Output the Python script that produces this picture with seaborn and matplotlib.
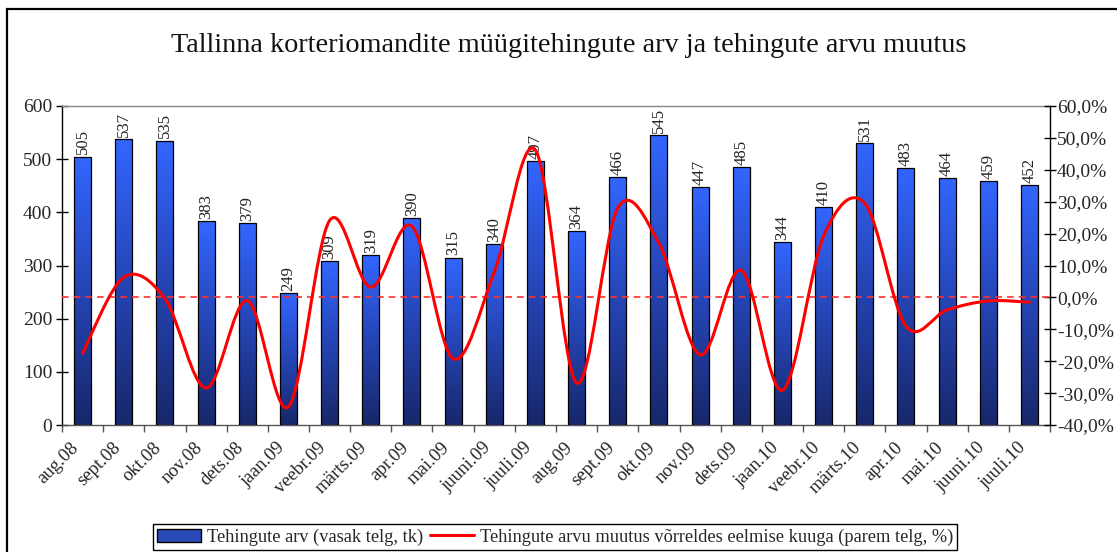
import numpy as np
import pandas as pd
import matplotlib
matplotlib.use("Agg")
import matplotlib.pyplot as plt
import seaborn as sns
from matplotlib.path import Path
from matplotlib.patches import PathPatch, Patch, Rectangle
from matplotlib.lines import Line2D
from matplotlib.ticker import FuncFormatter, FixedLocator
from matplotlib.colors import LinearSegmentedColormap

months = ["aug.08", "sept.08", "okt.08", "nov.08", "dets.08", "jaan.09", "veebr.09",
          "märts.09", "apr.09", "mai.09", "juuni.09", "juuli.09", "aug.09", "sept.09",
          "okt.09", "nov.09", "dets.09", "jaan.10", "veebr.10", "märts.10", "apr.10",
          "mai.10", "juuni.10", "juuli.10"]
counts = [505, 537, 535, 383, 379, 249, 309, 319, 390, 315, 340, 497, 364, 466,
          545, 447, 485, 344, 410, 531, 483, 464, 459, 452]
change_pct = [-17.5, 6.3, -0.4, -28.4, -1.0, -34.3, 24.1, 3.2, 22.3, -19.2, 7.9,
              46.2, -26.8, 28.0, 17.0, -18.0, 8.5, -29.1, 19.2, 29.5, -9.0, -3.9,
              -1.1, -1.5]
title = "Tallinna korteriomandite müügitehingute arv ja tehingute arvu muutus"
bar_label = "Tehingute arv (vasak telg, tk)"
line_label = "Tehingute arvu muutus võrreldes eelmise kuuga (parem telg, %)"

sns.set_theme(style="white")
plt.rcParams["font.family"] = ["Liberation Serif", "DejaVu Serif"]

W, H = 1117, 552
fig = plt.figure(figsize=(W / 100, H / 100), dpi=100)
ax = fig.add_axes([62 / W, 1 - 425 / H, (1050 - 62) / W, (425 - 106) / H])

df = pd.DataFrame({"month": months, "count": counts})
sns.barplot(data=df, x="month", y="count", ax=ax, width=0.41, color="#2a4ab8",
            edgecolor="black", linewidth=0.9, saturation=1)

# gradient fill for each bar
cmap = LinearSegmentedColormap.from_list("g", ["#17276a", "#2545b5", "#3366ff"])
grad = np.linspace(0, 1, 256).reshape(-1, 1)
for p in ax.patches:
    x0, y0 = p.get_x(), p.get_y()
    w, h = p.get_width(), p.get_height()
    im = ax.imshow(grad, cmap=cmap, origin="lower", aspect="auto",
                   extent=[x0, x0 + w, y0, y0 + h], zorder=2)
    im.set_clip_path(p)
    p.set_facecolor("none")
    p.set_zorder(3)

ax.set_xlim(-0.5, len(months) - 0.5)
ax.set_ylim(0, 600)
ax.set_yticks(range(0, 601, 100))
ax.set_xlabel("")
ax.set_ylabel("")

# bar value labels
for i, v in enumerate(counts):
    ax.annotate(str(v), (i, v), xytext=(0, 1.5), textcoords="offset points",
                rotation=90, ha="center", va="bottom", fontsize=12, color="#222222",
                zorder=4)

# x ticks: boundaries as major ticks, labels at centres
ax.xaxis.set_major_locator(FixedLocator(np.arange(-0.5, len(months), 1.0)))
ax.xaxis.set_minor_locator(FixedLocator(np.arange(len(months))))
ax.set_xticklabels([], minor=False)
ax.set_xticklabels(months, minor=True, rotation=45, ha="right", va="top",
                   rotation_mode="default", fontsize=13.5)
ax.tick_params(axis="x", which="major", direction="out", length=5, width=1,
               color="#555555", bottom=True)
ax.tick_params(axis="x", which="minor", length=0, pad=10)
ax.tick_params(axis="y", direction="inout", length=8, width=1, color="black",
               labelsize=14, left=True, pad=3)

ax.spines["left"].set_color("black")
ax.spines["bottom"].set_color("#555555")
ax.spines["top"].set_color("#888888")
ax.spines["right"].set_visible(False)
for s in ax.spines.values():
    s.set_linewidth(1)

# right axis
ax2 = ax.twinx()
ax2.set_ylim(-40, 60)
ax2.set_yticks(range(-40, 61, 10))
ax2.yaxis.set_major_formatter(FuncFormatter(lambda v, _: f"{v:.1f}%".replace(".", ",")))
ax2.tick_params(axis="y", direction="inout", length=8, width=1, color="black",
                labelsize=14, right=True, pad=1)
for s in ["top", "left", "bottom"]:
    ax2.spines[s].set_visible(False)
ax2.spines["right"].set_color("black")
ax2.spines["right"].set_linewidth(1)
ax2.grid(False)
ax.grid(False)

# zero reference line
ax2.axhline(0, color="#ff3030", lw=1.2, ls=(0, (4, 3)), zorder=4)

# smoothed line (Bezier through the data points)
xs = np.arange(len(change_pct), dtype=float)
ys = np.array(change_pct, dtype=float)
n = len(xs)
verts = [(xs[0], ys[0])]
codes = [Path.MOVETO]
for i in range(n - 1):
    p0 = np.array([xs[max(i - 1, 0)], ys[max(i - 1, 0)]])
    p1 = np.array([xs[i], ys[i]])
    p2 = np.array([xs[i + 1], ys[i + 1]])
    p3 = np.array([xs[min(i + 2, n - 1)], ys[min(i + 2, n - 1)]])
    c1 = p1 + (p2 - p0) / 6.0
    c2 = p2 - (p3 - p1) / 6.0
    verts += [tuple(c1), tuple(c2), tuple(p2)]
    codes += [Path.CURVE4] * 3
ax2.add_patch(PathPatch(Path(verts, codes), facecolor="none", edgecolor="#ff0000",
                        lw=2.2, zorder=5, capstyle="round", joinstyle="round"))

# title
fig.text(569 / W, 1 - 45 / H, title, ha="center", va="center", fontsize=20.3,
         color="#111111")

# legend
handles = [Patch(facecolor="#2a4ab8", edgecolor="black", linewidth=1),
           Line2D([0], [0], color="#ff0000", lw=2.2)]
leg = fig.legend(handles, [bar_label, line_label], loc="center",
                 bbox_to_anchor=(555 / W, 1 - 537 / H), ncol=2, frameon=True,
                 fancybox=False, edgecolor="black", framealpha=1, fontsize=13.2,
                 handlelength=2.4, handleheight=0.7, handletextpad=0.3,
                 columnspacing=0.4, borderpad=0.25, borderaxespad=0)
leg.get_frame().set_linewidth(1)

# chart-area border (cropped at right and bottom)
fig.patches.append(Rectangle((7 / W, -0.2), 1.5, 1.2 - 9 / H, transform=fig.transFigure,
                             fill=False, edgecolor="black", lw=1.6, zorder=10))

fig.savefig("out.png", dpi=100)
